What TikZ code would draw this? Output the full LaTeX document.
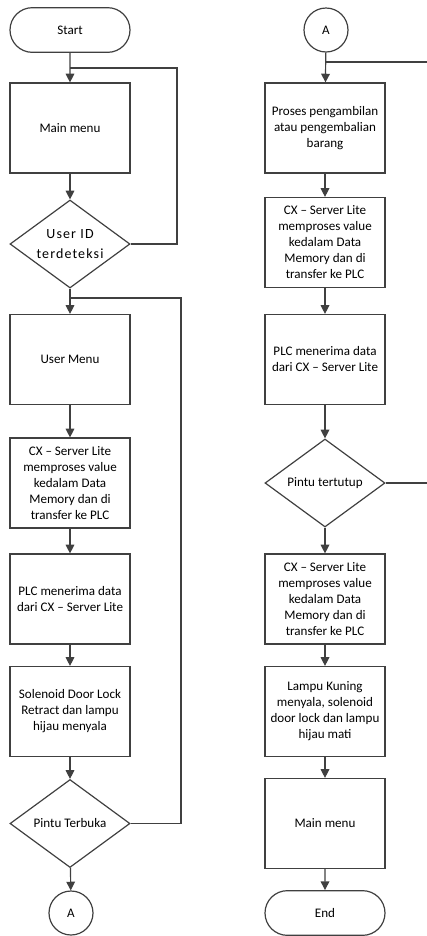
\documentclass[tikz,border=0pt]{standalone}
\usepackage{fontspec}
\setmainfont{Carlito}
\newfontfamily\wideface[LetterSpace=8]{Carlito}
\usetikzlibrary{shapes.geometric,shapes.misc,arrows.meta}

\begin{document}
\begin{tikzpicture}[x=0.75pt,y=0.75pt,yscale=-1,xscale=1,
    every node/.style={font=\fontsize{9.8}{12}\selectfont, text=black, align=center},
    proc/.style={draw=black!75, line width=0.9pt, rectangle, minimum width=90pt, minimum height=67.5pt, inner sep=0pt},
    dec/.style={draw=black!75, line width=0.9pt, diamond, shape aspect=1.36, minimum width=90pt, minimum height=66pt, inner sep=0pt},
    term/.style={draw=black!75, line width=0.9pt, rounded rectangle, minimum width=90pt, minimum height=33.5pt, inner sep=0pt},
    conn/.style={draw=black!75, line width=0.9pt, circle, minimum size=33pt, inner sep=0pt},
    arr/.style={draw=black!75, line width=0.9pt, -{Triangle[width=6.5pt,length=6.5pt]}},
    line/.style={draw=black!75, line width=0.9pt}]
%uncomment if require: \path (0,936); %set diagram left start at 0, and has height of 936
\useasboundingbox (0,0) rectangle (426,936);

%Flowchart: Terminator
\node[term] (start) at (70,30) {Start};
%Flowchart: Process
\node[proc] (main) at (70,128) {Main menu};
%Flowchart: Decision
\node[dec, font=\wideface\fontsize{10.5}{15}\selectfont] (userid) at (70,244) {User ID\\terdeteksi};
%Flowchart: Process
\node[proc] (usermenu) at (70,359.5) {User Menu};
%Flowchart: Process
\node[proc] (cxa) at (70,483) {CX -- Server Lite\\memproses value\\kedalam Data\\Memory dan di\\transfer ke PLC};
%Flowchart: Process
\node[proc] (plca) at (70,599) {PLC menerima data\\dari CX -- Server Lite};
%Flowchart: Process
\node[proc] (solenoid) at (70,711.5) {Solenoid Door Lock\\Retract dan lampu\\hijau menyala};
%Flowchart: Decision
\node[dec] (buka) at (70,823.5) {Pintu Terbuka};
%Flowchart: Connector
\node[conn] (ca) at (71,913) {A};

%Flowchart: Connector
\node[conn] (cb) at (326,30) {A};
%Flowchart: Process
\node[proc] (proses) at (325,128) {Proses pengambilan\\atau pengembalian\\barang};
%Flowchart: Process
\node[proc] (cxb) at (325,242.5) {CX -- Server Lite\\memproses value\\kedalam Data\\Memory dan di\\transfer ke PLC};
%Flowchart: Process
\node[proc] (plcb) at (325,359.5) {PLC menerima data\\dari CX -- Server Lite};
%Flowchart: Decision
\node[dec] (tutup) at (325,483) {Pintu tertutup};
%Flowchart: Process
\node[proc] (cxc) at (325,599) {CX -- Server Lite\\memproses value\\kedalam Data\\Memory dan di\\transfer ke PLC};
%Flowchart: Process
\node[proc] (lampu) at (325,711.5) {Lampu Kuning\\menyala, solenoid\\door lock dan lampu\\hijau mati};
%Flowchart: Process
\node[proc] (mainb) at (325,823.5) {Main menu};
%Flowchart: Terminator
\node[term] (end) at (325,913) {End};

% Join points
\coordinate (ja) at (70,68);
\coordinate (jb) at (70,298);
\coordinate (jc) at (326,62);
\coordinate (ka) at (177,68);
\coordinate (kb) at (181,298);
\coordinate (kc) at (430,62);

%Straight Lines
\draw[arr] (start) -- (main);
\draw[arr] (main) -- (userid);
\draw[arr] (userid) -- (usermenu);
\draw[arr] (usermenu) -- (cxa);
\draw[arr] (cxa) -- (plca);
\draw[arr] (plca) -- (solenoid);
\draw[arr] (solenoid) -- (buka);
\draw[arr] (buka) -- (ca);

\draw[arr] (cb) -- (proses);
\draw[arr] (proses) -- (cxb);
\draw[arr] (cxb) -- (plcb);
\draw[arr] (plcb) -- (tutup);
\draw[arr] (tutup) -- (cxc);
\draw[arr] (cxc) -- (lampu);
\draw[arr] (lampu) -- (mainb);
\draw[arr] (mainb) -- (end);

%Loops back
\draw[line] (userid.east) -| (ka) -- (ja);
\draw[line] (buka.east) -| (kb) -- (jb);
\draw[line] (tutup.east) -| (kc) -- (jc);

\end{tikzpicture}
\end{document}
